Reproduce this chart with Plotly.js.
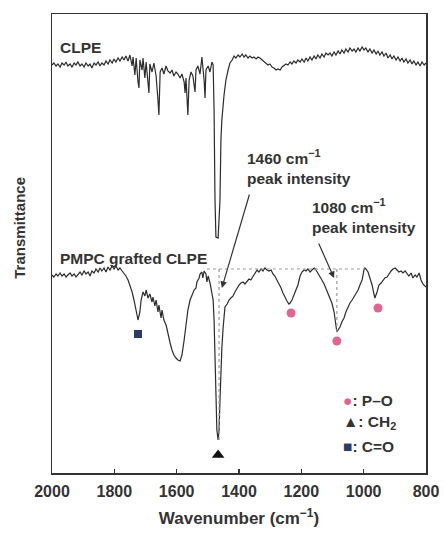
<!DOCTYPE html>
<html>
<head>
<meta charset="utf-8">
<script src="https://cdn.plot.ly/plotly-3.0.1.min.js"></script>
<style>html,body{margin:0;padding:0;background:#fff;}#chart{width:444px;height:538px;}</style>
</head>
<body>
<div id="chart"></div>
<script>
// Wavenumber (cm-1) and transmittance (arbitrary units)
const clpeWn = [2000,1994,1987,1981,1974,1968,1961,1955,1949,1942,1936,1929,1923,1917,1910,1904,1897,1891,1884,1878,1872,1865,1859,1852,1846,1840,1833,1827,1820,1814,1807,1801,1795,1788,1782,1775,1769,1763,1756,1750,
1743,1740,1734,1730,1724,1721,1718,1711,1708,1702,1698,1692,1689,1686,1679,1673,1666,1660,1657,1653,1647,1641,1634,1628,1621,1615,1609,1602,1596,1589,1583,1576,1573,1570,1564,1560,1554,1548,1541,1538,1532,1525,1519,1512,1509,1506,1499,1493,1487,1483,1480,1477,1474,1467,1461,1458,1455,1448,1442,1435,1429,1422,1416,1410,1403,1397,1390,1384,1378,1371,1365,1358,1352,1345,1339,1333,1326,1320,1313,1307,1301,1294,1288,1281,1275,1268,1262,1256,1249,1243,1236,1230,1224,1217,1211,1204,1198,1191,1185,1179,1172,1166,1159,1153,1147,1140,1134,1127,1121,1114,1108,1102,1095,1089,1082,1076,1070,1063,1057,1050,1044,1037,1031,1025,1018,1012,1005,999,993,986,980,973,967,960,954,948,941,935,928,922,915,909,903,896,890,883,877,871,864,858,851,845,839,832,826,819,813,806,800];
const clpeT = [408,410,407,409,406,410,408,411,407,409,406,410,408,411,407,409,406,410,407,409,405,410,408,411,407,410,408,412,409,413,410,414,411,415,412,416,413,417,412,418,
407,416,398,415,391,385,413,403,415,395,411,387,380,409,401,410,397,373,358,401,405,399,407,402,400,403,397,401,399,395,399,391,380,395,358,393,401,397,381,403,407,399,416,393,375,403,407,401,411,408,363,273,236,235,273,333,353,378,393,403,410,413,417,415,418,416,419,416,418,415,417,415,416,414,416,415,413,411,410,408,409,406,405,403,404,403,406,407,409,408,411,409,412,410,413,411,414,411,415,412,416,413,417,414,418,415,419,416,420,418,420,417,421,418,422,419,423,420,424,421,425,422,424,421,425,422,426,423,425,421,424,420,423,419,422,418,421,417,420,415,418,414,417,413,416,412,415,411,414,410,413,409,412,408,411,407,411,408,410];

const pmpcWn = [2000,1994,1987,1981,1974,1968,1961,1955,1949,1942,1936,1929,1923,1917,1910,1904,1897,1891,1884,1878,1872,1865,1859,1852,1846,1840,1833,1827,1820,1814,1807,1801,1795,1788,1782,1775,1769,1763,1756,1750,1743,1737,1730,1724,1718,1714,1708,1702,1698,1692,1686,1679,1676,1670,1666,1660,1657,1650,1647,1641,1634,1628,1621,1615,1609,1602,1596,1589,1583,1576,1570,1564,1557,1551,1544,1538,1535,1528,1525,1519,1516,1512,1506,1503,1499,1493,1487,1483,1480,1477,1474,1471,1467,1464,1461,1458,1455,1451,1448,1445,1438,1432,1426,1419,1413,1406,1400,1394,1387,1381,1374,1368,1362,1355,1349,1342,1336,1329,1323,1317,1310,1304,1297,1291,1285,1278,1272,1265,1259,1252,1246,1240,1236,1230,1224,1217,1211,1204,1198,1191,1185,1179,1172,1166,1159,1153,1147,1140,1134,1127,1121,1114,1108,1102,1095,1089,1086,1082,1076,1070,1063,1057,1050,1044,1037,1031,1025,1018,1012,1005,999,996,993,986,980,973,967,964,957,951,944,938,932,925,919,912,906,899,893,887,880,874,867,861,855,848,842,835,829,822,816,810,800];
const pmpcT = [198,196,199,197,200,197,199,196,198,200,197,199,196,198,201,198,202,199,201,197,202,200,204,201,205,202,205,201,206,203,207,204,207,203,205,202,200,197,193,188,181,173,163,153,161,173,181,177,183,175,179,171,176,167,173,161,168,155,163,153,148,138,130,123,118,115,113,112,118,133,148,163,173,178,183,185,191,195,199,201,195,202,199,191,197,190,181,173,153,113,73,43,33,43,73,103,125,145,158,166,169,173,175,177,181,185,188,190,191,189,192,194,193,197,200,203,201,204,202,205,203,202,203,199,197,193,189,185,180,175,172,169,170,173,178,183,188,197,201,203,202,204,201,203,205,203,200,197,193,189,184,180,175,170,161,148,141,143,146,151,155,161,166,170,173,176,179,183,188,193,203,205,204,201,195,188,179,175,181,188,190,192,195,196,199,202,204,205,203,201,202,200,202,199,197,200,195,198,196,200,193,189,186];

// Band markers
const poWn = [1233, 1086, 954];
const poT = [160, 132, 165];
const ch2Wn = [1467];
const ch2T = [18];
const coWn = [1724];
const coT = [139];

// Peak-intensity guides
const guideLevel = 204;
const guideFrom = 1503;
const guideTo = 996;
const peakWn = [1464, 1086];
const peakT = [33, 141];

const xTicks = [2000, 1800, 1600, 1400, 1200, 1000, 800];

const FONT = 'Liberation Sans, Arial, sans-serif';
const INK = '#333333';
const PINK = '#e0668f';
const NAVY = '#2d3a63';

const traces = [
  {x: clpeWn, y: clpeT, type: 'scatter', mode: 'lines', line: {color: '#2b2b2b', width: 1.2}, hoverinfo: 'skip'},
  {x: pmpcWn, y: pmpcT, type: 'scatter', mode: 'lines', line: {color: '#2b2b2b', width: 1.2}, hoverinfo: 'skip'},
  {x: poWn, y: poT, type: 'scatter', mode: 'markers', marker: {symbol: 'circle', size: 9, color: PINK}},
  {x: ch2Wn, y: ch2T, type: 'scatter', mode: 'markers', marker: {symbol: 'triangle-up', size: 11, color: '#111'}},
  {x: coWn, y: coT, type: 'scatter', mode: 'markers', marker: {symbol: 'square', size: 8, color: NAVY}}
];

const dotLine = {color: '#9a9a9a', width: 1.2, dash: 'dot'};
const shapes = [
  {type: 'line', xref: 'x', yref: 'y', x0: guideFrom, x1: guideTo, y0: guideLevel, y1: guideLevel, line: dotLine},
  {type: 'line', xref: 'x', yref: 'y', x0: peakWn[0], x1: peakWn[0], y0: guideLevel, y1: peakT[0], line: dotLine},
  {type: 'line', xref: 'x', yref: 'y', x0: peakWn[1], x1: peakWn[1], y0: guideLevel, y1: peakT[1], line: dotLine}
];

const tf = {family: FONT, size: 15.5, color: INK, weight: 'bold'};
const annotations = [
  {x: 1981, y: 426, xref: 'x', yref: 'y', text: 'CLPE', showarrow: false, xanchor: 'left', yanchor: 'middle', font: tf},
  {x: 1981, y: 215, xref: 'x', yref: 'y', text: 'PMPC grafted CLPE', showarrow: false, xanchor: 'left', yanchor: 'middle', font: tf},
  {x: 1381, y: 306, xref: 'x', yref: 'y', text: '1460 cm<sup>−1</sup><br>peak intensity', align: 'left', showarrow: false, xanchor: 'left', yanchor: 'middle', font: tf},
  {x: 1172, y: 257, xref: 'x', yref: 'y', text: '1080 cm<sup>−1</sup><br>peak intensity', align: 'left', showarrow: false, xanchor: 'left', yanchor: 'middle', font: tf},
  {x: 1455, y: 185, xref: 'x', yref: 'y', ax: 28, ay: -95, text: '', showarrow: true, arrowhead: 2, arrowsize: 1.1, arrowwidth: 1.2, arrowcolor: INK},
  {x: 1095, y: 195, xref: 'x', yref: 'y', ax: -16, ay: -36, text: '', showarrow: true, arrowhead: 2, arrowsize: 1.1, arrowwidth: 1.2, arrowcolor: INK},
  {x: 1072, y: 73, xref: 'x', yref: 'y', text: '<span style="color:' + PINK + '">●</span>: P–O', showarrow: false, xanchor: 'left', yanchor: 'middle', font: tf},
  {x: 1072, y: 51, xref: 'x', yref: 'y', text: '▲: CH<sub>2</sub>', showarrow: false, xanchor: 'left', yanchor: 'middle', font: tf},
  {x: 1072, y: 27, xref: 'x', yref: 'y', text: '<span style="color:' + NAVY + '">■</span>: C=O', showarrow: false, xanchor: 'left', yanchor: 'middle', font: tf},
  {x: -0.086, y: 0.534, xref: 'paper', yref: 'paper', text: 'Transmittance', textangle: -90, showarrow: false, xanchor: 'center', yanchor: 'middle', font: {family: FONT, size: 15, color: INK, weight: 'bold'}}
];

const layout = {
  width: 444, height: 538,
  margin: {l: 52, r: 18, t: 14, b: 65},
  paper_bgcolor: '#ffffff', plot_bgcolor: '#ffffff',
  showlegend: false,
  font: {family: FONT, color: INK},
  xaxis: {
    range: [2000, 800], tickvals: xTicks, ticks: 'inside', ticklen: 4, tickwidth: 1.5, tickcolor: INK,
    showline: true, mirror: true, linecolor: INK, linewidth: 1.5, showgrid: false, zeroline: false,
    ticklabelstandoff: 3,
    tickfont: {family: FONT, size: 16, color: INK, weight: 'bold'},
    title: {text: 'Wavenumber (cm<sup>−1</sup>)', font: {family: FONT, size: 17, color: INK, weight: 'bold'}, standoff: 13}
  },
  yaxis: {
    range: [0, 459], showticklabels: false, ticks: '',
    showline: true, mirror: true, linecolor: INK, linewidth: 1.5, showgrid: false, zeroline: false
  },
  shapes: shapes,
  annotations: annotations
};

Plotly.newPlot('chart', traces, layout, {displayModeBar: false, staticPlot: true});
</script>
</body>
</html>
